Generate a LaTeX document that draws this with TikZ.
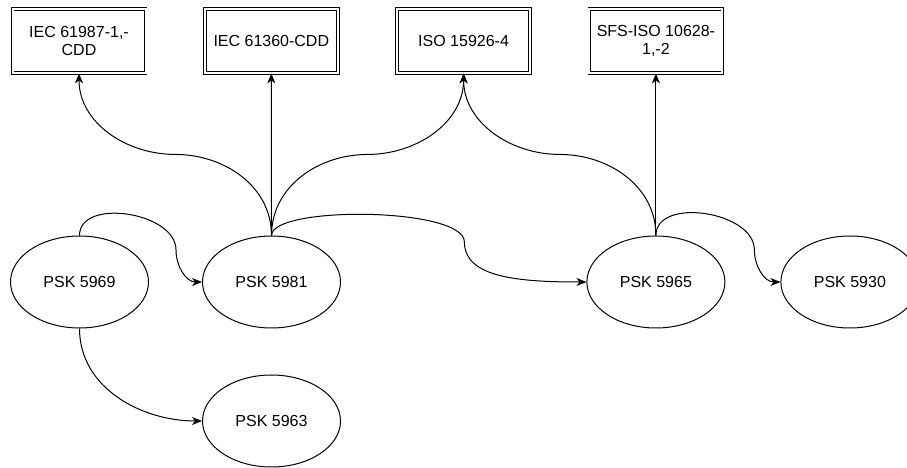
\documentclass[tikz,border=0pt]{standalone}
\usepackage{fontspec}
\setmainfont{Liberation Sans}
\usetikzlibrary{arrows.meta, positioning, shapes.geometric, calc}

\begin{document}
\begin{tikzpicture}[x=1pt, y=1pt, node distance=58.5pt,
    every node/.style={align=center, font=\fontsize{16}{18}\selectfont},
    stdbox/.style={draw, rectangle, double, double distance=2pt, line width=0.8pt, minimum width=133pt, minimum height=64pt, inner sep=2pt},
    psk/.style={draw, ellipse, line width=1pt, minimum width=138pt, minimum height=92pt, inner sep=0pt},
    edge/.style={line width=1pt, -{Stealth[length=10pt, width=8pt, inset=3pt]}}]
        \useasboundingbox (0,0) rectangle (907,468);

        % standards
        \node (iecA) [stdbox] at (79,427) {IEC 61987-1,-\\CDD};
        \node (iecB) [stdbox, right=of iecA] {IEC 61360-CDD};
        \node (iso) [stdbox, right=of iecB] {ISO 15926-4};
        \node (sfs) [stdbox, right=of iso] {SFS-ISO 10628-\\1,-2};

        % PSK documents
        \node (p5969) [psk] at (79.5,186) {PSK 5969};
        \node (p5981) [psk, right=53pt of p5969] {PSK 5981};
        \node (p5965) [psk] at (sfs |- p5981) {PSK 5965};
        \node (p5930) [psk, right=55pt of p5965] {PSK 5930};
        \node (p5963) [psk, below=46pt of p5981] {PSK 5963};

        \draw[edge] (p5969.north) to[out=90, in=90] ($(p5981.west)+(-26,32)$) to[out=-90, in=180] (p5981.west);
        \draw[edge] (p5969.south) to[out=-90, in=180] (p5963.west);
        \draw[edge] (p5981.north) to[out=90, in=0] ($(p5981.north)!.5!(iecA.south)$) to[out=180, in=-90] (iecA.south);
        \draw[edge] (p5981.north) -- (iecB.south);
        \draw[edge] (p5981.north) to[out=90, in=180] ($(p5981.north)!.5!(iso.south)$) to[out=0, in=-90] (iso.south);
        \draw[edge] (p5981.north) .. controls +(0,30) and +(0,35) .. ($(p5965.west)+(-122,40)$) .. controls +(0,-35) and +(-70,0) .. (p5965.west);
        \draw[edge] (p5965.north) to[out=90, in=0] ($(p5965.north)!.5!(iso.south)$) to[out=180, in=-90] (iso.south);
        \draw[edge] (p5965.north) -- (sfs.south);
        \draw[edge] (p5965.north) to[out=90, in=90] ($(p5930.west)+(-26,32)$) to[out=-90, in=180] (p5930.west);
    \end{tikzpicture}
\end{document}
